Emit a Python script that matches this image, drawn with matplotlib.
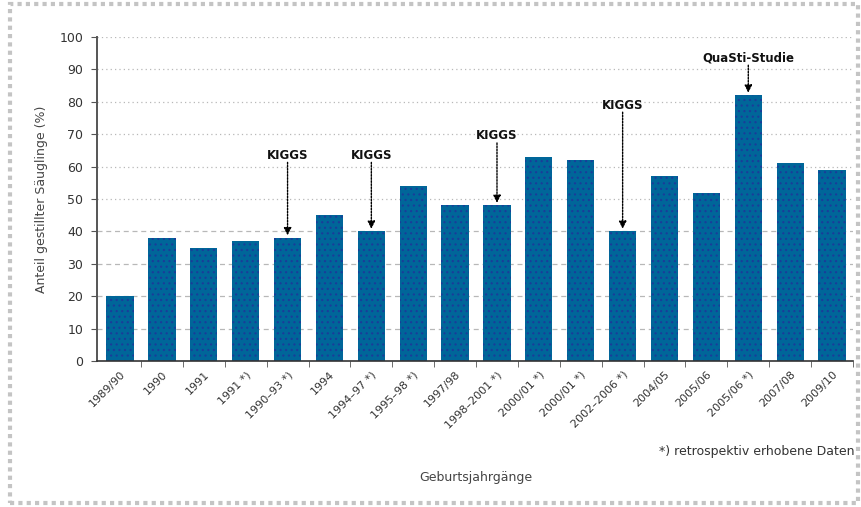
import matplotlib
matplotlib.use("Agg")
import matplotlib.pyplot as plt
from matplotlib.patches import Rectangle

categories = ["1989/90", "1990", "1991", "1991 *)", "1990–93 *)", "1994",
              "1994–97 *)", "1995–98 *)", "1997/98", "1998–2001 *)",
              "2000/01 *)", "2000/01 *)", "2002–2006 *)", "2004/05",
              "2005/06", "2005/06 *)", "2007/08", "2009/10"]
values = [20, 38, 35, 37, 38, 45, 40, 54, 48, 48, 63, 62, 40, 57, 52, 82, 61, 59]

# study markers: (bar index, label, text height)
markers = [(4, "KIGGS", 63.5), (6, "KIGGS", 63.5), (9, "KIGGS", 69.5),
           (12, "KIGGS", 79.0), (15, "QuaSti-Studie", 93.5)]

yticks = list(range(0, 101, 10))

plt.rcParams["font.family"] = ["DejaVu Sans"]
plt.rcParams["hatch.linewidth"] = 0.8

fig = plt.figure(figsize=(8.62, 5.07), dpi=100)
ax = fig.add_axes([97 / 862, 1 - 361 / 507, (853 - 97) / 862, (361 - 37) / 507])

# gridlines: dashed in the lower part, dotted above
for y in yticks[1:]:
    ls = (0, (4, 3)) if y <= 40 else (0, (1, 2.5))
    ax.axhline(y, color="#b8b8b8", lw=0.9, ls=ls, zorder=0)

x = list(range(len(categories)))
ax.bar(x, values, width=0.65, color="#006699", edgecolor="#1a3c9a",
       linewidth=0, hatch="...", zorder=2)

for idx, label, ty in markers:
    top = values[idx]
    ax.annotate("", xy=(idx, top + 0.8), xytext=(idx, ty - 2.2),
                arrowprops=dict(arrowstyle="-|>", color="black", lw=1.0,
                                linestyle=(0, (1.2, 1)), mutation_scale=11,
                                shrinkA=0, shrinkB=0), zorder=3)
    ax.text(idx, ty, label, ha="center", va="center", fontsize=8.5,
            fontweight="bold", color="#111111", zorder=3)

ax.set_xlim(-0.55, 17.5)
ax.set_ylim(0, 100)
ax.set_yticks(yticks)
ax.set_yticklabels([str(v) for v in yticks], fontsize=9, color="#333333")

ax.set_xticks(x)
ax.set_xticklabels(categories, rotation=45, ha="right", va="top",
                   rotation_mode="anchor", fontsize=8, color="#333333")
ax.tick_params(axis="x", length=0, pad=6)
ax.set_xticks([i + 0.5 for i in x], minor=True)
ax.tick_params(axis="x", which="minor", length=4, color="#555555", direction="out")
ax.tick_params(axis="y", length=4, color="#555555", direction="out", pad=6)

for side in ("top", "right"):
    ax.spines[side].set_visible(False)
ax.spines["left"].set_color("#555555")
ax.spines["left"].set_linewidth(1.4)
ax.spines["bottom"].set_color("#333333")
ax.spines["bottom"].set_linewidth(1.2)

ax.set_ylabel("Anteil gestillter Säuglinge (%)", fontsize=9, color="#444444",
              labelpad=8)

fig.text(476 / 862, 1 - 478 / 507, "Geburtsjahrgänge", ha="center", va="center",
         fontsize=9, color="#444444")
fig.text(855 / 862, 1 - 452 / 507, "*) retrospektiv erhobene Daten", ha="right",
         va="center", fontsize=9, color="#333333")

# outer frame
fig.patches.append(Rectangle((10 / 862, 4 / 507), 848 / 862, 499 / 507,
                             transform=fig.transFigure, fill=False,
                             edgecolor="#c4c4c4", lw=3, ls=(0, (1, 1))))

fig.savefig("out.png", dpi=100)
